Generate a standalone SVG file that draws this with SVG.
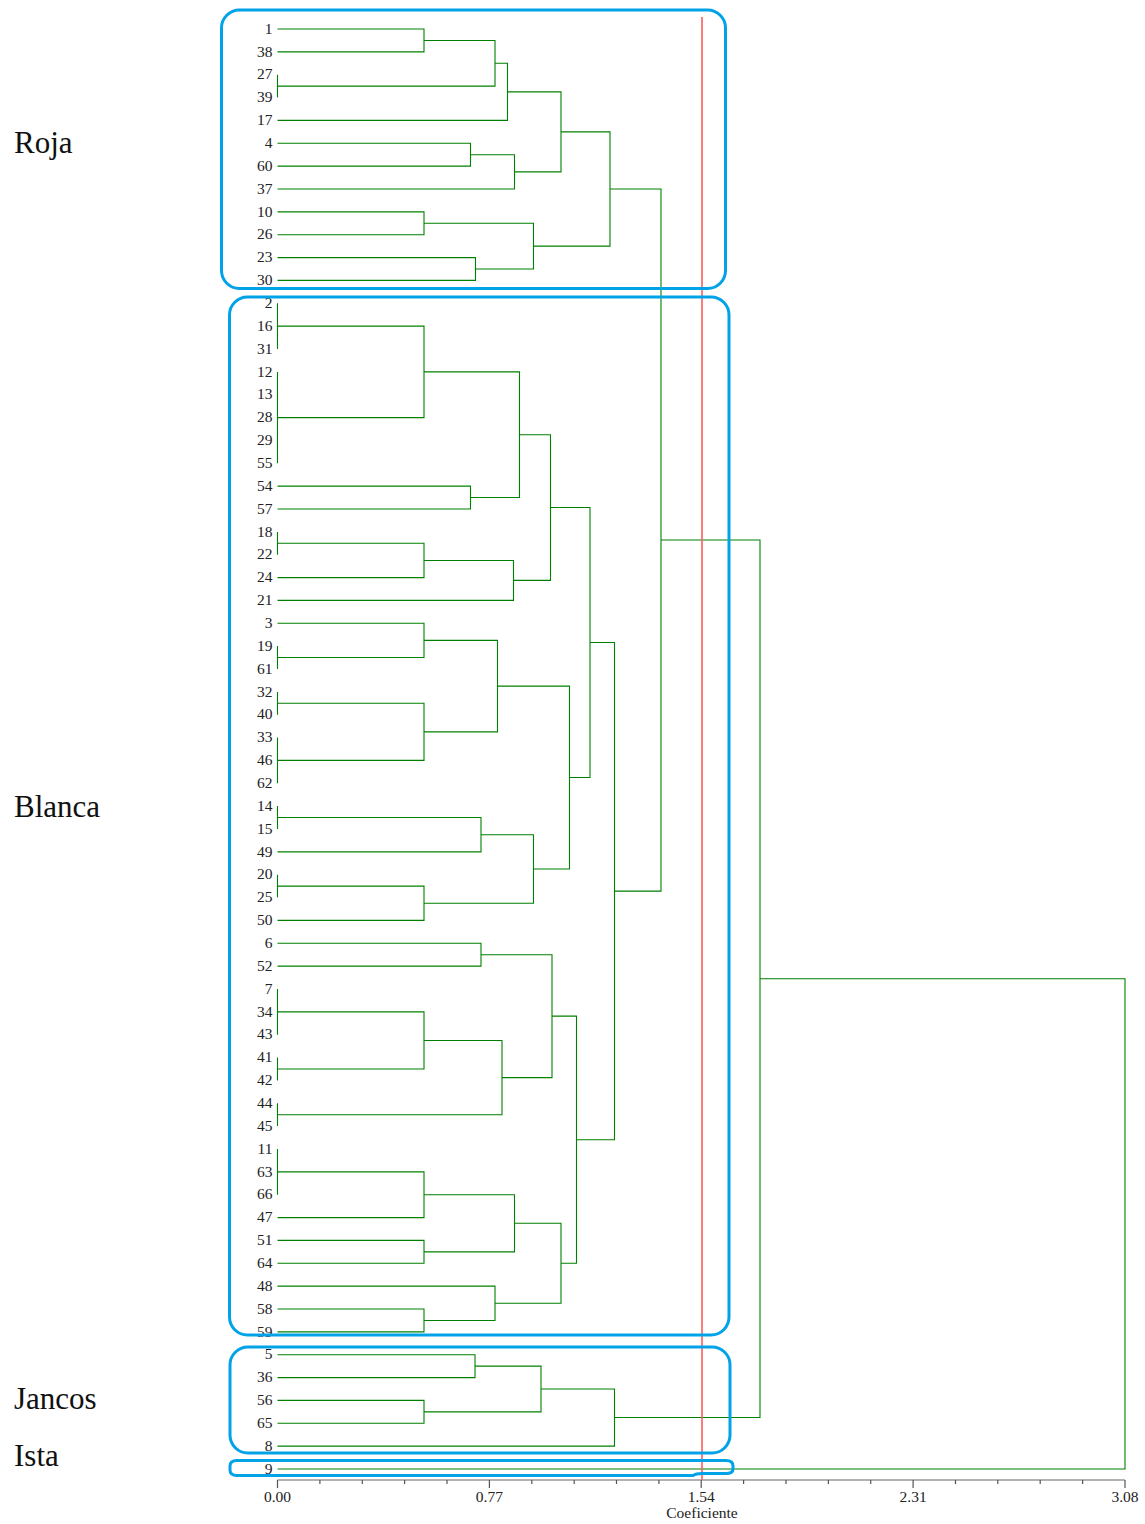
<svg xmlns="http://www.w3.org/2000/svg" width="1145" height="1524" viewBox="0 0 1145 1524">
<style>
.lf{font-family:"Liberation Serif","Times New Roman",serif;font-size:15.5px;fill:#222;text-anchor:end}
.grp{font-family:"Liberation Serif","Times New Roman",serif;font-size:31px;fill:#111}
.ax{font-family:"Liberation Serif","Times New Roman",serif;font-size:15.5px;fill:#222;text-anchor:middle}
.br{fill:none;stroke:#008000;stroke-width:1.1}
.box{fill:none;stroke:#00a2e8;stroke-width:3}
.tk{stroke:#555;stroke-width:1.2}
</style>
<rect width="1145" height="1524" fill="#fff"/>
<g id="groups">
<text class="grp" x="14" y="153">Roja</text>
<text class="grp" x="14" y="817">Blanca</text>
<text class="grp" x="14" y="1409">Jancos</text>
<text class="grp" x="14" y="1466">Ista</text>
</g>
<g id="leaves" transform="translate(0,-0.8)">
<g id="n1"><text class="lf" x="272.5" y="34.5">1</text></g>
<g id="n38"><text class="lf" x="272.5" y="57.4">38</text></g>
<g id="n27"><text class="lf" x="272.5" y="80.2">27</text></g>
<g id="n39"><text class="lf" x="272.5" y="103.1">39</text></g>
<g id="n17"><text class="lf" x="272.5" y="125.9">17</text></g>
<g id="n4"><text class="lf" x="272.5" y="148.8">4</text></g>
<g id="n60"><text class="lf" x="272.5" y="171.6">60</text></g>
<g id="n37"><text class="lf" x="272.5" y="194.5">37</text></g>
<g id="n10"><text class="lf" x="272.5" y="217.4">10</text></g>
<g id="n26"><text class="lf" x="272.5" y="240.2">26</text></g>
<g id="n23"><text class="lf" x="272.5" y="263.1">23</text></g>
<g id="n30"><text class="lf" x="272.5" y="285.9">30</text></g>
<g id="n2"><text class="lf" x="272.5" y="308.8">2</text></g>
<g id="n16"><text class="lf" x="272.5" y="331.6">16</text></g>
<g id="n31"><text class="lf" x="272.5" y="354.5">31</text></g>
<g id="n12"><text class="lf" x="272.5" y="377.4">12</text></g>
<g id="n13"><text class="lf" x="272.5" y="400.2">13</text></g>
<g id="n28"><text class="lf" x="272.5" y="423.1">28</text></g>
<g id="n29"><text class="lf" x="272.5" y="445.9">29</text></g>
<g id="n55"><text class="lf" x="272.5" y="468.8">55</text></g>
<g id="n54"><text class="lf" x="272.5" y="491.6">54</text></g>
<g id="n57"><text class="lf" x="272.5" y="514.5">57</text></g>
<g id="n18"><text class="lf" x="272.5" y="537.4">18</text></g>
<g id="n22"><text class="lf" x="272.5" y="560.2">22</text></g>
<g id="n24"><text class="lf" x="272.5" y="583.1">24</text></g>
<g id="n21"><text class="lf" x="272.5" y="605.9">21</text></g>
<g id="n3"><text class="lf" x="272.5" y="628.8">3</text></g>
<g id="n19"><text class="lf" x="272.5" y="651.6">19</text></g>
<g id="n61"><text class="lf" x="272.5" y="674.5">61</text></g>
<g id="n32"><text class="lf" x="272.5" y="697.4">32</text></g>
<g id="n40"><text class="lf" x="272.5" y="720.2">40</text></g>
<g id="n33"><text class="lf" x="272.5" y="743.1">33</text></g>
<g id="n46"><text class="lf" x="272.5" y="765.9">46</text></g>
<g id="n62"><text class="lf" x="272.5" y="788.8">62</text></g>
<g id="n14"><text class="lf" x="272.5" y="811.6">14</text></g>
<g id="n15"><text class="lf" x="272.5" y="834.5">15</text></g>
<g id="n49"><text class="lf" x="272.5" y="857.4">49</text></g>
<g id="n20"><text class="lf" x="272.5" y="880.2">20</text></g>
<g id="n25"><text class="lf" x="272.5" y="903.1">25</text></g>
<g id="n50"><text class="lf" x="272.5" y="925.9">50</text></g>
<g id="n6"><text class="lf" x="272.5" y="948.8">6</text></g>
<g id="n52"><text class="lf" x="272.5" y="971.6">52</text></g>
<g id="n7"><text class="lf" x="272.5" y="994.5">7</text></g>
<g id="n34"><text class="lf" x="272.5" y="1017.4">34</text></g>
<g id="n43"><text class="lf" x="272.5" y="1040.2">43</text></g>
<g id="n41"><text class="lf" x="272.5" y="1063.1">41</text></g>
<g id="n42"><text class="lf" x="272.5" y="1085.9">42</text></g>
<g id="n44"><text class="lf" x="272.5" y="1108.8">44</text></g>
<g id="n45"><text class="lf" x="272.5" y="1131.6">45</text></g>
<g id="n11"><text class="lf" x="272.5" y="1154.5">11</text></g>
<g id="n63"><text class="lf" x="272.5" y="1177.4">63</text></g>
<g id="n66"><text class="lf" x="272.5" y="1200.2">66</text></g>
<g id="n47"><text class="lf" x="272.5" y="1223.1">47</text></g>
<g id="n51"><text class="lf" x="272.5" y="1245.9">51</text></g>
<g id="n64"><text class="lf" x="272.5" y="1268.8">64</text></g>
<g id="n48"><text class="lf" x="272.5" y="1291.6">48</text></g>
<g id="n58"><text class="lf" x="272.5" y="1314.5">58</text></g>
<g id="n59"><text class="lf" x="272.5" y="1337.4">59</text></g>
<g id="n5"><text class="lf" x="272.5" y="1360.2">5</text></g>
<g id="n36"><text class="lf" x="272.5" y="1383.1">36</text></g>
<g id="n56"><text class="lf" x="272.5" y="1405.9">56</text></g>
<g id="n65"><text class="lf" x="272.5" y="1428.8">65</text></g>
<g id="n8"><text class="lf" x="272.5" y="1451.6">8</text></g>
<g id="n9"><text class="lf" x="272.5" y="1474.5">9</text></g>
</g>
<g id="connectors" class="br">
<path d="M277.5 74.7V97.6M277.5 303.3V349M277.5 371.9V463.3M277.5 531.9V554.7M277.5 646.1V669M277.5 691.9V714.7M277.5 737.6V783.3M277.5 806.1V829M277.5 874.7V897.6M277.5 989V1034.7M277.5 1057.6V1080.4M277.5 1103.3V1126.1M277.5 1149V1194.7"/>
<path d="M277.5 29H424V51.9H277.5"/>
<path d="M424 40.45H495V86.15H277.5"/>
<path d="M495 63.3H507.5V120.4H277.5"/>
<path d="M277.5 143.3H470.5V166.1H277.5"/>
<path d="M470.5 154.7H514.5V189H277.5"/>
<path d="M507.5 91.85H561V171.85H514.5"/>
<path d="M277.5 211.9H424V234.7H277.5"/>
<path d="M277.5 257.6H475.5V280.4H277.5"/>
<path d="M424 223.3H533.5V269H475.5"/>
<path d="M561 131.85H610V246.15H533.5"/>
<path d="M277.5 326.1H424V417.6H277.5"/>
<path d="M277.5 486.1H470.5V509H277.5"/>
<path d="M424 371.85H519.5V497.55H470.5"/>
<path d="M277.5 543.3H424V577.6H277.5"/>
<path d="M424 560.45H513.5V600.4H277.5"/>
<path d="M519.5 434.7H550.5V580.4H513.5"/>
<path d="M277.5 623.3H424V657.55H277.5"/>
<path d="M277.5 703.3H424V760.4H277.5"/>
<path d="M424 640.4H497.5V731.85H424"/>
<path d="M277.5 817.55H481V851.9H277.5"/>
<path d="M277.5 886.15H424V920.4H277.5"/>
<path d="M481 834.7H533.5V903.3H424"/>
<path d="M497.5 686.1H569.5V869H533.5"/>
<path d="M550.5 507.55H590V777.55H569.5"/>
<path d="M277.5 943.3H481V966.1H277.5"/>
<path d="M277.5 1011.9H424V1069H277.5"/>
<path d="M424 1040.45H502V1114.7H277.5"/>
<path d="M481 954.7H552V1077.6H502"/>
<path d="M277.5 1171.9H424V1217.6H277.5"/>
<path d="M277.5 1240.4H424V1263.3H277.5"/>
<path d="M424 1194.75H514.5V1251.85H424"/>
<path d="M277.5 1309H424V1331.9H277.5"/>
<path d="M277.5 1286.1H495V1320.45H424"/>
<path d="M514.5 1223.3H561V1303.3H495"/>
<path d="M552 1016.15H576.5V1263.3H561"/>
<path d="M590 642.55H614.5V1139.7H576.5"/>
<path d="M610 189H661V891.1H614.5"/>
<path d="M277.5 1354.7H475V1377.6H277.5"/>
<path d="M277.5 1400.4H424V1423.3H277.5"/>
<path d="M475 1366.15H541V1411.85H424"/>
<path d="M541 1389H614.5V1446.1H277.5"/>
<path d="M661 540.05H760V1417.55H614.5"/>
<path d="M760 978.8H1125V1469H277.5"/>
</g>
<g id="axis">
<line x1="277.5" y1="1480" x2="1125" y2="1480" stroke="#666" stroke-width="1.2"/>
<path class="tk" d="M277.5 1480v8M489.4 1480v8M701.2 1480v8M913.1 1480v8M1125 1480v8"/>
<path class="tk" d="M319.9 1480v4M362.3 1480v4M404.6 1480v4M447 1480v4M531.8 1480v4M574.2 1480v4M616.5 1480v4M658.9 1480v4M743.6 1480v4M786 1480v4M828.4 1480v4M870.7 1480v4M955.5 1480v4M997.8 1480v4M1040.2 1480v4M1082.6 1480v4"/>
<text class="ax" x="277.5" y="1502">0.00</text>
<text class="ax" x="489.4" y="1502">0.77</text>
<text class="ax" x="701.2" y="1502">1.54</text>
<text class="ax" x="913.1" y="1502">2.31</text>
<text class="ax" x="1125" y="1502">3.08</text>
<text class="ax" x="702" y="1518">Coeficiente</text>
</g>
<line id="cutoff" x1="702" y1="17" x2="702" y2="1480" stroke="#ff5c5c" stroke-width="1.6"/>
<g id="clusters">
<rect id="box-roja" class="box" x="221.5" y="10" width="504" height="278.5" rx="18"/>
<rect id="box-blanca" class="box" x="229.5" y="297" width="499.5" height="1038" rx="18"/>
<rect id="box-jancos" class="box" x="230" y="1347" width="500" height="106" rx="18"/>
<path id="box-ista" class="box" d="M237 1460.5H726Q733 1460.5 733 1466V1469Q733 1473.5 726 1473.5H702Q696 1473.5 693 1475.5H237Q230 1475.5 230 1470V1466Q230 1460.5 237 1460.5Z"/>
</g>
</svg>
